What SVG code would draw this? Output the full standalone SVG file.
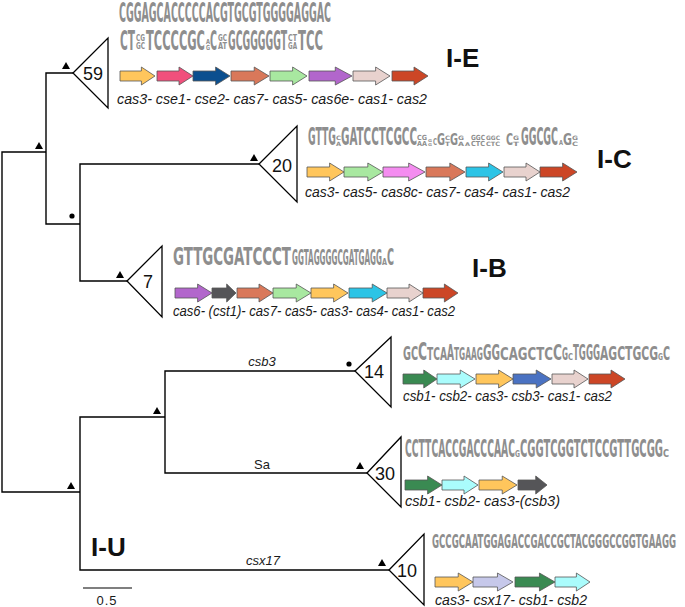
<svg xmlns="http://www.w3.org/2000/svg" xmlns:xlink="http://www.w3.org/1999/xlink" width="685" height="607" viewBox="0 0 685 607">
<style>
.br{fill:none;stroke:#000;stroke-width:1.4}
.tri{fill:#fff;stroke:#000;stroke-width:1.3}
.num{font-family:"Liberation Sans",Arial,sans-serif;font-size:18px;fill:#111;text-anchor:middle;dominant-baseline:central}
.sq{font-family:"DejaVu Sans Condensed","DejaVu Sans",sans-serif;font-weight:bold;fill:#8e8e8e}
.gl{font-family:"Liberation Sans",Arial,sans-serif;font-style:italic;font-size:14px;fill:#1a1a1a}
.bl{font-family:"Liberation Sans",Arial,sans-serif;font-size:13px;fill:#1a1a1a;text-anchor:middle}
.ty{font-family:"Liberation Sans",Arial,sans-serif;font-weight:bold;font-size:26px;fill:#111}
.sup{fill:#000}
.a{stroke:#555;stroke-width:0.8}
</style>
<defs>
<path id="arr" d="M0,-5 H22 V-9 L36,0 L22,9 V5 H0 Z" vector-effect="non-scaling-stroke"/>
</defs>

<g id="connectors">
<path class="br" d="M46,152 H2 V492 H80"/>
<path class="br" d="M73,73 H46 V224 H80"/>
<path class="br" d="M259,164 H80 V281 H127"/>
<path class="br" d="M165,417 H80 V570 H389"/>
<path class="br" d="M355,371 H165 V473 H367"/>
<line x1="83" y1="588" x2="132" y2="588" stroke="#000" stroke-width="1.2"/>
<text class="bl" x="107" y="605" font-size="12" letter-spacing="1">0.5</text>
<text class="bl" x="262" y="366" font-style="italic">csb3</text>
<text class="bl" x="262" y="469">Sa</text>
<text class="bl" x="263" y="565" font-style="italic">csx17</text>
<polygon class="sup" points="35,149 43,149 39,142"/>
<polygon class="sup" points="62,69 70,69 66,62"/>
<circle class="sup" cx="72" cy="216" r="2.6"/>
<polygon class="sup" points="116,278 124,278 120,271"/>
<polygon class="sup" points="250,161 258,161 254,154"/>
<polygon class="sup" points="67,489 75,489 71,482"/>
<polygon class="sup" points="153,414 161,414 157,407"/>
<circle class="sup" cx="349" cy="364" r="2.6"/>
<polygon class="sup" points="356,469 364,469 360,462"/>
<polygon class="sup" points="378,566 386,566 382,559"/>
</g>

<g id="type-IE">
<polygon class="tri" points="73,73 108,38 108,108"/>
<text class="num" x="93" y="74">59</text>
<text class="sq" x="119" y="22" font-size="26" textLength="212" lengthAdjust="spacingAndGlyphs">CGGAGCACCCCCACGTGCGTGGGGAGGAC</text>
<text class="sq" x="120" y="50" font-size="26" textLength="15" lengthAdjust="spacingAndGlyphs">CT</text>
<text class="sq" x="136" y="41" font-size="8" textLength="9" lengthAdjust="spacingAndGlyphs">CG</text>
<text class="sq" x="136" y="49" font-size="8" textLength="9" lengthAdjust="spacingAndGlyphs">GC</text>
<text class="sq" x="146" y="50" font-size="26" textLength="59" lengthAdjust="spacingAndGlyphs">TCCCCGC</text>
<text class="sq" x="206" y="44" font-size="7" textLength="4" lengthAdjust="spacingAndGlyphs">A</text>
<text class="sq" x="206" y="50" font-size="7" textLength="4" lengthAdjust="spacingAndGlyphs">G</text>
<text class="sq" x="210" y="50" font-size="26" textLength="7" lengthAdjust="spacingAndGlyphs">C</text>
<text class="sq" x="218" y="41" font-size="8" textLength="9" lengthAdjust="spacingAndGlyphs">GC</text>
<text class="sq" x="218" y="49" font-size="8" textLength="9" lengthAdjust="spacingAndGlyphs">AT</text>
<text class="sq" x="228" y="50" font-size="26" textLength="59" lengthAdjust="spacingAndGlyphs">GCGGGGGT</text>
<text class="sq" x="288" y="41" font-size="8" textLength="9" lengthAdjust="spacingAndGlyphs">CT</text>
<text class="sq" x="288" y="49" font-size="8" textLength="9" lengthAdjust="spacingAndGlyphs">GA</text>
<text class="sq" x="298" y="50" font-size="26" textLength="25" lengthAdjust="spacingAndGlyphs">TCC</text>
<use href="#arr" class="a" fill="#FFC65C" transform="translate(120,76) scale(0.972,1)"/>
<use href="#arr" class="a" fill="#F0507C" transform="translate(157,76) scale(1,1)"/>
<use href="#arr" class="a" fill="#0B4F8F" transform="translate(193,76) scale(1.028,1)"/>
<use href="#arr" class="a" fill="#D9785A" transform="translate(231,76) scale(1.056,1)"/>
<use href="#arr" class="a" fill="#A8E8A0" transform="translate(270,76) scale(1.028,1)"/>
<use href="#arr" class="a" fill="#B266CC" transform="translate(309,76) scale(1.194,1)"/>
<use href="#arr" class="a" fill="#E8D2CE" transform="translate(353,76) scale(1.028,1)"/>
<use href="#arr" class="a" fill="#CC4626" transform="translate(392,76) scale(1,1)"/>
<text class="gl" x="117" y="104" textLength="310" lengthAdjust="spacingAndGlyphs">cas3- cse1- cse2- cas7- cas5- cas6e- cas1- cas2</text>
<text class="ty" x="446" y="67">I-E</text>
</g>

<g id="type-IC">
<polygon class="tri" points="259,164 297,126 297,202"/>
<text class="num" x="282" y="166">20</text>
<text class="sq" x="308" y="145" font-size="25" textLength="28" lengthAdjust="spacingAndGlyphs">GTTG</text>
<text class="sq" x="336" y="140" font-size="6" textLength="5" lengthAdjust="spacingAndGlyphs">C</text>
<text class="sq" x="336" y="146" font-size="6" textLength="5" lengthAdjust="spacingAndGlyphs">A</text>
<text class="sq" x="341" y="145" font-size="25" textLength="76" lengthAdjust="spacingAndGlyphs">GATCCTCGCC</text>
<text class="sq" x="417" y="140" font-size="7" textLength="10" lengthAdjust="spacingAndGlyphs">CG</text>
<text class="sq" x="417" y="146" font-size="7" textLength="10" lengthAdjust="spacingAndGlyphs">AA</text>
<text class="sq" x="428" y="142" font-size="4" textLength="4" lengthAdjust="spacingAndGlyphs">G</text>
<text class="sq" x="428" y="146" font-size="4" textLength="4" lengthAdjust="spacingAndGlyphs">G</text>
<text class="sq" x="433" y="145" font-size="8" textLength="4" lengthAdjust="spacingAndGlyphs">C</text>
<text class="sq" x="437" y="145" font-size="16" textLength="8" lengthAdjust="spacingAndGlyphs">G</text>
<text class="sq" x="445" y="140" font-size="6" textLength="5" lengthAdjust="spacingAndGlyphs">C</text>
<text class="sq" x="445" y="146" font-size="6" textLength="5" lengthAdjust="spacingAndGlyphs">T</text>
<text class="sq" x="450" y="145" font-size="16" textLength="8" lengthAdjust="spacingAndGlyphs">G</text>
<text class="sq" x="458" y="140" font-size="6" textLength="6" lengthAdjust="spacingAndGlyphs">G</text>
<text class="sq" x="458" y="146" font-size="6" textLength="6" lengthAdjust="spacingAndGlyphs">A</text>
<text class="sq" x="465" y="146" font-size="5" textLength="5" lengthAdjust="spacingAndGlyphs">A</text>
<text class="sq" x="471" y="140" font-size="7" textLength="14" lengthAdjust="spacingAndGlyphs">GGC</text>
<text class="sq" x="471" y="146" font-size="7" textLength="14" lengthAdjust="spacingAndGlyphs">CTC</text>
<text class="sq" x="486" y="140" font-size="6" textLength="14" lengthAdjust="spacingAndGlyphs">GGC</text>
<text class="sq" x="486" y="146" font-size="6" textLength="14" lengthAdjust="spacingAndGlyphs">CTC</text>
<text class="sq" x="506" y="145" font-size="15" textLength="7" lengthAdjust="spacingAndGlyphs">C</text>
<text class="sq" x="513" y="140" font-size="6" textLength="6" lengthAdjust="spacingAndGlyphs">G</text>
<text class="sq" x="513" y="146" font-size="6" textLength="6" lengthAdjust="spacingAndGlyphs">T</text>
<text class="sq" x="521" y="145" font-size="25" textLength="37" lengthAdjust="spacingAndGlyphs">GGCGC</text>
<text class="sq" x="559" y="145" font-size="7" textLength="4" lengthAdjust="spacingAndGlyphs">A</text>
<text class="sq" x="563" y="145" font-size="15" textLength="9" lengthAdjust="spacingAndGlyphs">G</text>
<text class="sq" x="572" y="140" font-size="6" textLength="6" lengthAdjust="spacingAndGlyphs">G</text>
<text class="sq" x="572" y="146" font-size="6" textLength="6" lengthAdjust="spacingAndGlyphs">C</text>
<use href="#arr" class="a" fill="#FFC65C" transform="translate(307,172) scale(1.028,1)"/>
<use href="#arr" class="a" fill="#A8E8A0" transform="translate(344,172) scale(1.083,1)"/>
<use href="#arr" class="a" fill="#F48CF0" transform="translate(383,172) scale(1.167,1)"/>
<use href="#arr" class="a" fill="#D9785A" transform="translate(426,172) scale(1.083,1)"/>
<use href="#arr" class="a" fill="#2CC4E6" transform="translate(466,172) scale(1.028,1)"/>
<use href="#arr" class="a" fill="#E8D2CE" transform="translate(504,172) scale(1,1)"/>
<use href="#arr" class="a" fill="#CC4626" transform="translate(540,172) scale(1.028,1)"/>
<text class="gl" x="305" y="197" textLength="265" lengthAdjust="spacingAndGlyphs">cas3- cas5- cas8c- cas7- cas4- cas1- cas2</text>
<text class="ty" x="597" y="168">I-C</text>
</g>

<g id="type-IB">
<polygon class="tri" points="127,281 162,246 162,317"/>
<text class="num" x="148" y="282">7</text>
<text class="sq" x="173" y="265" font-size="25" textLength="118" lengthAdjust="spacingAndGlyphs">GTTGCGATCCCT</text>
<text class="sq" x="292" y="265" font-size="21" textLength="90" lengthAdjust="spacingAndGlyphs">GGTAGGGGCGATGAGG</text>
<text class="sq" x="382" y="265" font-size="9" textLength="5" lengthAdjust="spacingAndGlyphs">A</text>
<text class="sq" x="387" y="265" font-size="23" textLength="7" lengthAdjust="spacingAndGlyphs">C</text>
<use href="#arr" class="a" fill="#B266CC" transform="translate(175,293) scale(1.028,1)"/>
<use href="#arr" class="a" fill="#555558" transform="translate(212,293) scale(0.667,1)"/>
<use href="#arr" class="a" fill="#D9785A" transform="translate(237,293) scale(1,1)"/>
<use href="#arr" class="a" fill="#A8E8A0" transform="translate(273,293) scale(1.056,1)"/>
<use href="#arr" class="a" fill="#FFC65C" transform="translate(311,293) scale(1.028,1)"/>
<use href="#arr" class="a" fill="#2CC4E6" transform="translate(349,293) scale(1.056,1)"/>
<use href="#arr" class="a" fill="#E8D2CE" transform="translate(387,293) scale(1,1)"/>
<use href="#arr" class="a" fill="#CC4626" transform="translate(423,293) scale(0.972,1)"/>
<text class="gl" x="173" y="316" textLength="282" lengthAdjust="spacingAndGlyphs">cas6- (cst1)- cas7- cas5- cas3- cas4- cas1- cas2</text>
<text class="ty" x="472" y="277">I-B</text>
</g>

<g id="clade-14">
<polygon class="tri" points="355,371 391,337 391,407"/>
<text class="num" x="374" y="372">14</text>
<text class="sq" x="403" y="360" font-size="19" textLength="15" lengthAdjust="spacingAndGlyphs">GC</text>
<text class="sq" x="418" y="360" font-size="24" textLength="9" lengthAdjust="spacingAndGlyphs">C</text>
<text class="sq" x="427" y="360" font-size="17" textLength="20" lengthAdjust="spacingAndGlyphs">TCA</text>
<text class="sq" x="447" y="360" font-size="22" textLength="7" lengthAdjust="spacingAndGlyphs">A</text>
<text class="sq" x="454" y="360" font-size="17" textLength="29" lengthAdjust="spacingAndGlyphs">TGAAG</text>
<text class="sq" x="483" y="360" font-size="22" textLength="17" lengthAdjust="spacingAndGlyphs">GG</text>
<text class="sq" x="500" y="360" font-size="17" textLength="53" lengthAdjust="spacingAndGlyphs">CAGCTC</text>
<text class="sq" x="553" y="360" font-size="22" textLength="9" lengthAdjust="spacingAndGlyphs">C</text>
<text class="sq" x="562" y="360" font-size="17" textLength="6" lengthAdjust="spacingAndGlyphs">G</text>
<text class="sq" x="568" y="360" font-size="9" textLength="5" lengthAdjust="spacingAndGlyphs">C</text>
<text class="sq" x="573" y="360" font-size="22" textLength="27" lengthAdjust="spacingAndGlyphs">TGGG</text>
<text class="sq" x="600" y="360" font-size="20" textLength="58" lengthAdjust="spacingAndGlyphs">AGCTGCG</text>
<text class="sq" x="658" y="360" font-size="9" textLength="5" lengthAdjust="spacingAndGlyphs">G</text>
<text class="sq" x="663" y="360" font-size="20" textLength="7" lengthAdjust="spacingAndGlyphs">C</text>
<use href="#arr" class="a" fill="#3A8A52" transform="translate(403,379) scale(0.944,1)"/>
<use href="#arr" class="a" fill="#AAFCFC" transform="translate(437,379) scale(1.056,1)"/>
<use href="#arr" class="a" fill="#FFC65C" transform="translate(476,379) scale(1.028,1)"/>
<use href="#arr" class="a" fill="#4A72C2" transform="translate(513,379) scale(1.056,1)"/>
<use href="#arr" class="a" fill="#E8D2CE" transform="translate(552,379) scale(1,1)"/>
<use href="#arr" class="a" fill="#CC4626" transform="translate(589,379) scale(1,1)"/>
<text class="gl" x="403" y="401" textLength="209" lengthAdjust="spacingAndGlyphs">csb1- csb2- cas3- csb3- cas1- cas2</text>
</g>

<g id="clade-30">
<polygon class="tri" points="367,473 401,437 401,507"/>
<text class="num" x="385" y="474">30</text>
<text class="sq" x="405" y="457" font-size="24" textLength="110" lengthAdjust="spacingAndGlyphs">CCTTCACCGACCCAAC</text>
<text class="sq" x="515" y="457" font-size="9" textLength="5" lengthAdjust="spacingAndGlyphs">G</text>
<text class="sq" x="520" y="457" font-size="24" textLength="143" lengthAdjust="spacingAndGlyphs">CGGTCGGTCTCCGTTGCGG</text>
<text class="sq" x="663" y="457" font-size="10" textLength="6" lengthAdjust="spacingAndGlyphs">C</text>
<use href="#arr" class="a" fill="#3A8A52" transform="translate(405,485) scale(1.028,1)"/>
<use href="#arr" class="a" fill="#AAFCFC" transform="translate(442,485) scale(1,1)"/>
<use href="#arr" class="a" fill="#FFC65C" transform="translate(479,485) scale(1.056,1)"/>
<use href="#arr" class="a" fill="#555558" transform="translate(518,485) scale(0.806,1)"/>
<text class="gl" x="405" y="506" textLength="155" lengthAdjust="spacingAndGlyphs">csb1- csb2- cas3-(csb3)</text>
</g>

<g id="clade-10">
<polygon class="tri" points="389,570 424,534 424,605"/>
<text class="num" x="407" y="571">10</text>
<text class="sq" x="432" y="548" font-size="19" textLength="244" lengthAdjust="spacingAndGlyphs">GCCGCAATGGAGACCGACCGCTACGGGCCGGTGAAGG</text>
<use href="#arr" class="a" fill="#FFC65C" transform="translate(435,582) scale(1.056,1)"/>
<use href="#arr" class="a" fill="#C6C8EA" transform="translate(473,582) scale(1.111,1)"/>
<use href="#arr" class="a" fill="#3A8A52" transform="translate(515,582) scale(1.111,1)"/>
<use href="#arr" class="a" fill="#AAFCFC" transform="translate(555,582) scale(0.972,1)"/>
<text class="gl" x="435" y="605" textLength="152" lengthAdjust="spacingAndGlyphs">cas3- csx17- csb1- csb2</text>
</g>

<g id="label-IU">
<text class="ty" x="91" y="556">I-U</text>
</g>
</svg>
